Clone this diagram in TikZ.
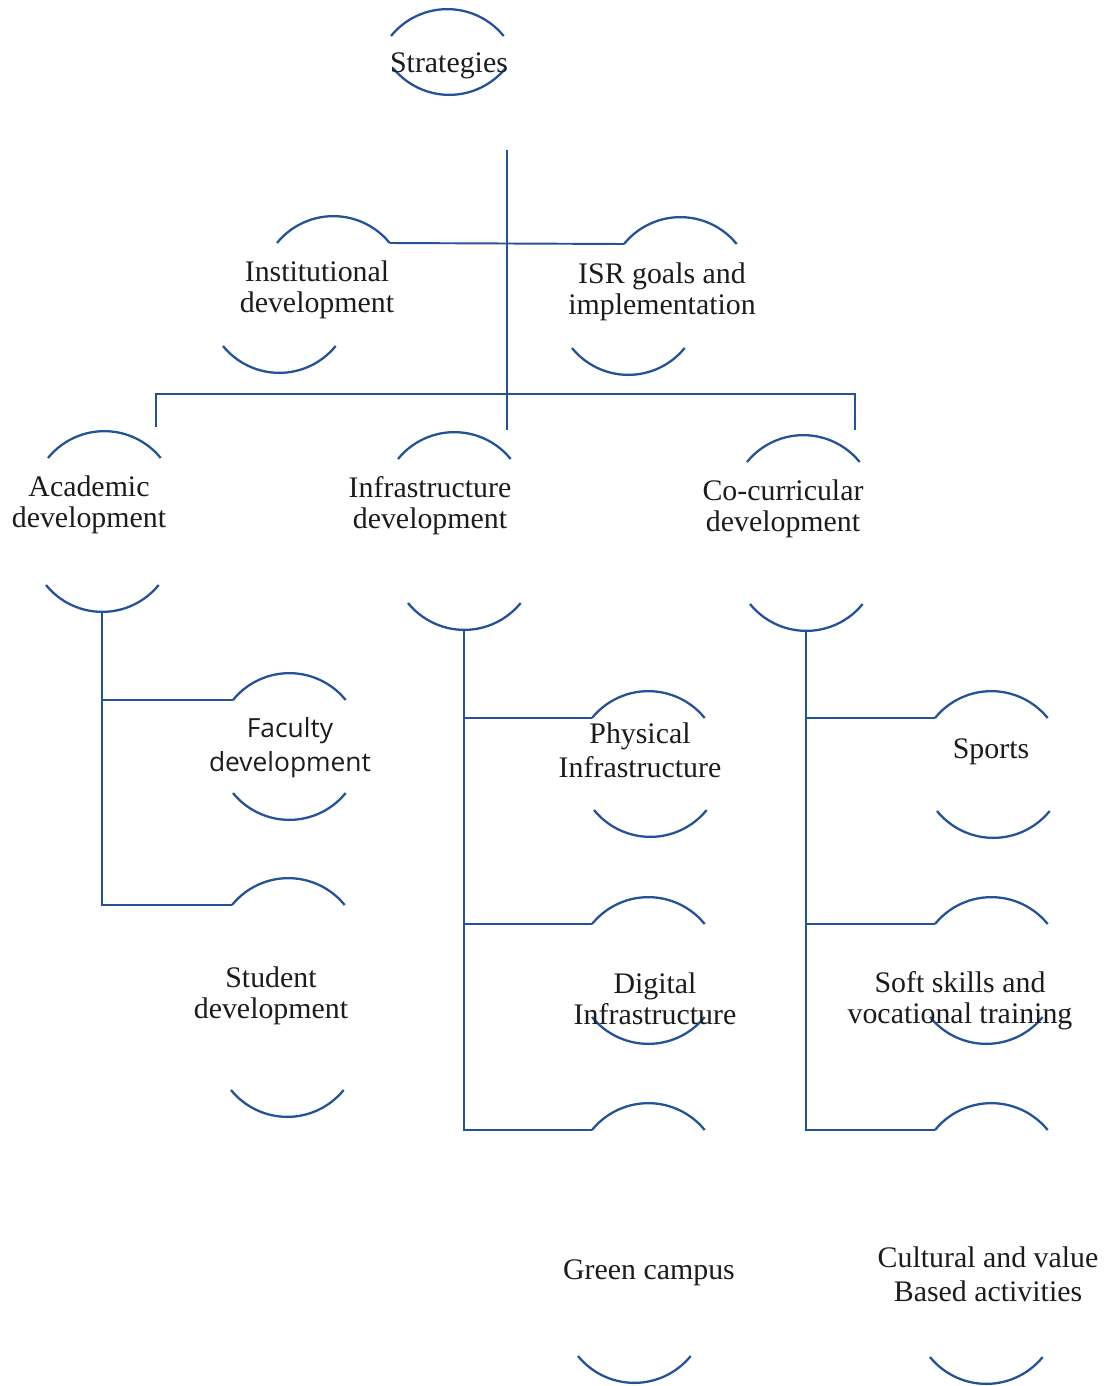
\documentclass[tikz,border=0pt]{standalone}
\usepackage{fontspec}
\setmainfont{Liberation Serif}
\newfontfamily\facultyfont{Open Sans}
\usepackage{tikz}
\definecolor{capblue}{RGB}{36,82,152}
\definecolor{ink}{RGB}{28,28,28}
\tikzset{capline/.style={draw=capblue,line width=1.3pt},
         link/.style={draw=capblue,line width=1.1pt},
         wide/.style={font=\fontsize{17}{19.5}\selectfont},}
\tikzstyle{lbl} = [text=ink,font=\fontsize{17}{17.5}\selectfont,align=center,inner sep=0pt]

\begin{document}
\begin{tikzpicture}[x=0.02cm,y=-0.02cm]
    \useasboundingbox (0,0) rectangle (1109,1386);
    \foreach \n/\tx/\ty/\bx/\by in {1/391/36/393/68, 2/277/243/223/346, 3/624/244/572/348,
        4/48/458/46/585, 5/398/459/408/603, 6/747/462/750/604,
        7/233/700/233/793, 8/232/905/231/1090, 9/592/718/594/810,
        10/592/924/592/1017, 11/592/1130/578/1356, 12/935/718/937/811,
        13/935/924/930/1017, 14/935/1130/930/1357}{
        \draw[capline] (\tx,\ty) coordinate (\n-tl)
            arc[start angle=141,end angle=39,radius=1.45cm] coordinate (\n-tr);
        \draw[capline] (\bx,\by) arc[start angle=219,end angle=270,radius=1.45cm]
            coordinate (\n-b) arc[start angle=270,end angle=321,radius=1.45cm];
    }
    \node[lbl] (1) at (449,66) {Strategies};
    \node[lbl] (2) at (317,290) {Institutional\\development};
    \node[lbl] (3) at (662,292) {ISR goals and\\implementation};
    \node[lbl] (4) at (89,505) {Academic\\development};
    \node[lbl] (5) at (430,506) {Infrastructure\\development};
    \node[lbl] (6) at (783,509) {Co-curricular\\development};
    \node[lbl,font=\facultyfont\fontsize{15}{19.5}\selectfont] (7) at (290,748) {Faculty\\development};
    \node[lbl] (8) at (271,996) {Student\\development};
    \node[lbl,wide] (9) at (640,750) {Physical\\Infrastructure};
    \node[lbl] (10) at (655,999) {Digital\\Infrastructure};
    \node[lbl] (11) at (649,1273) {Green campus};
    \node[lbl] (12) at (991,752) {Sports};
    \node[lbl] (13) at (960,1001) {Soft skills and\\vocational training};
    \node[lbl,wide] (14) at (988,1274) {Cultural and value\\Based activities};
    \coordinate (top) at (507,150);
    \coordinate (mid) at (507,430);
    \coordinate (bar) at (507,394);
    \coordinate (bl) at (156,427);
    \coordinate (br) at (855,430);
    \draw[link] (top) -- (mid);
    \draw[link] (2-tr) -- (3-tl);
    \draw[link] (bl) |- (bar) -| (br);
    \draw[link] (4-b) |- (7-tl) (4-b) |- (8-tl);
    \draw[link] (5-b) |- (9-tl) (5-b) |- (10-tl) (5-b) |- (11-tl);
    \draw[link] (6-b) |- (12-tl) (6-b) |- (13-tl) (6-b) |- (14-tl);
\end{tikzpicture}
\end{document}
